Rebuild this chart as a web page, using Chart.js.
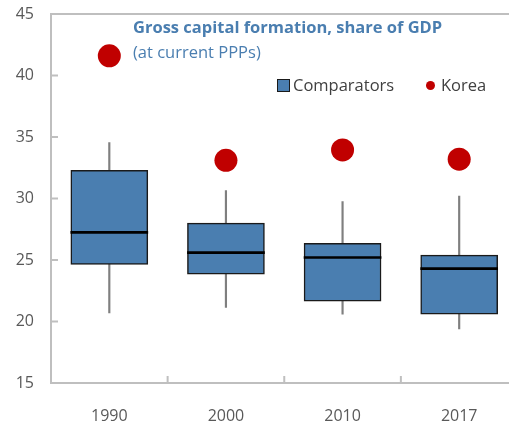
<!DOCTYPE html>
<html>
<head>
<meta charset="utf-8">
<script src="https://cdn.jsdelivr.net/npm/chart.js@4"></script>
<style>
  body{ margin:0; overflow:hidden; background:#fff; font-family:"Open Sans", sans-serif; }
  #wrap{ position:relative; width:529px; height:422px; }
  .title{ position:absolute; left:133px; top:15px; color:#4a7eb0; font-size:16.5px; font-weight:bold; white-space:nowrap; }
  .sub{ position:absolute; left:133px; top:40px; color:#4a7eb0; font-size:16.5px; white-space:nowrap; }
  .leg{ position:absolute; top:73px; font-size:16.5px; color:#404040; white-space:nowrap; }
  .sq{ position:absolute; left:277px; top:79px; width:11px; height:11px; background:#4a7eb0; border:1.5px solid #1a1a1a; }
  .dot{ position:absolute; left:426px; top:81px; width:9px; height:9px; border-radius:50%; background:#c00000; }
</style>
</head>
<body>
<div id="wrap">
  <canvas id="chart"></canvas>
  <div class="title">Gross capital formation, share of GDP</div>
  <div class="sub">(at current PPPs)</div>
  <div class="sq"></div>
  <div class="leg" style="left:293px">Comparators</div>
  <div class="dot"></div>
  <div class="leg" style="left:441px">Korea</div>
</div>
<script>
// ===== DATA =====
let years = ["1990", "2000", "2010", "2017"];
let whiskerLow  = [20.7, 21.15, 20.6, 19.4];
let boxLow      = [24.65, 23.85, 21.65, 20.6];
let median      = [27.25, 25.6, 25.2, 24.3];
let boxHigh     = [32.3, 28.0, 26.35, 25.4];
let whiskerHigh = [34.55, 30.65, 29.75, 30.2];
let korea       = [41.6, 33.1, 33.95, 33.2];
let yTicks      = [15, 20, 25, 30, 35, 40, 45];

const BLUE = "#4a7eb0";
const RED = "#c00000";
const AXIS = "#bfbfbf";
const MEDIAN_HALF = 0.08; // half thickness of the median bar, in axis units

// ===== INSIDE TICK MARKS =====
const innerTicks = {
    id: "innerTicks",
    afterDraw(chart){
        let ctx = chart.ctx;
        let x = chart.scales.x, y = chart.scales.y;
        let area = chart.chartArea;
        ctx.save();
        ctx.strokeStyle = AXIS;
        ctx.lineWidth = 2;
        yTicks.forEach(v => {
            let py = y.getPixelForValue(v);
            ctx.beginPath();
            ctx.moveTo(area.left, py);
            ctx.lineTo(area.left + 7, py);
            ctx.stroke();
        });
        for(let i = 0; i < years.length - 1; i++){
            let px = (x.getPixelForValue(i) + x.getPixelForValue(i + 1)) / 2;
            ctx.beginPath();
            ctx.moveTo(px, area.bottom);
            ctx.lineTo(px, area.bottom - 7);
            ctx.stroke();
        }
        ctx.restore();
    }
};

new Chart(document.getElementById("chart"), {
    type: "bar",
    data: {
        labels: years,
        datasets: [
            {
                label: "whiskers",
                data: years.map((_, i) => [whiskerLow[i], whiskerHigh[i]]),
                backgroundColor: "#7f7f7f",
                barThickness: 1.5,
                grouped: false,
                order: 4
            },
            {
                label: "Comparators",
                data: years.map((_, i) => [boxLow[i], boxHigh[i]]),
                backgroundColor: BLUE,
                borderColor: "#1a1a1a",
                borderWidth: 1.5,
                borderSkipped: false,
                barThickness: 77,
                grouped: false,
                order: 3
            },
            {
                label: "median",
                data: median.map(m => [m - MEDIAN_HALF, m + MEDIAN_HALF]),
                backgroundColor: "#000",
                barThickness: 77,
                grouped: false,
                order: 2
            },
            {
                type: "line",
                label: "Korea",
                data: korea,
                showLine: false,
                borderWidth: 0,
                pointRadius: 11.5,
                pointHoverRadius: 11.5,
                pointBackgroundColor: RED,
                pointBorderColor: RED,
                pointBorderWidth: 0,
                order: 1
            }
        ]
    },
    options: {
        responsive: true,
        maintainAspectRatio: false,
        animation: false,
        layout: { padding: { top: 14, right: 0, left: 0, bottom: 0 } },
        plugins: { legend: { display: false }, tooltip: { enabled: false } },
        scales: {
            x: {
                offset: true,
                grid: { display: false },
                border: { color: AXIS, width: 2 },
                ticks: { color: "#595959", font: { family: "Open Sans", size: 16 }, padding: 16 },
                afterFit(s){ s.height = 39; }
            },
            y: {
                min: 15,
                max: 45,
                afterBuildTicks(s){ s.ticks = yTicks.map(v => ({ value: v })); },
                grid: {
                    drawTicks: false,
                    color: c => c.tick && c.tick.value === 45 ? AXIS : "transparent",
                    lineWidth: 2
                },
                border: { color: AXIS, width: 2 },
                ticks: { color: "#595959", font: { family: "Open Sans", size: 16 }, padding: 17 },
                afterFit(s){ s.width = 51; s.paddingTop = 0; s.paddingBottom = 0; }
            }
        }
    },
    plugins: [innerTicks]
});
</script>
</body>
</html>
